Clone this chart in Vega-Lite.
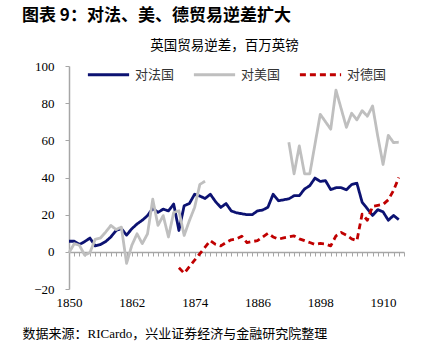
{
  "$schema": "https://vega.github.io/schema/vega-lite/v6.json",
  "width": 335,
  "height": 223,
  "autosize": "none",
  "padding": {"left": 69, "top": 66, "right": 27, "bottom": 59},
  "background": "#ffffff",
  "title": {"text": "图表 9：对法、美、德贸易逆差扩大", "anchor": "start", "frame": "group", "dx": -47, "offset": 13, "font": "Noto Sans CJK SC", "fontSize": 17, "fontWeight": "bold", "color": "#000000"},
  "config": {"view": {"stroke": null}},
  "data": {"values": [
    {"year": 1850, "对法国": 5.7, "对美国": -0.5},
    {"year": 1851, "对法国": 5.7, "对美国": 4.4},
    {"year": 1852, "对法国": 4, "对美国": 3.5},
    {"year": 1853, "对法国": 5.5, "对美国": -1.8},
    {"year": 1854, "对法国": 7.4, "对美国": -0.4},
    {"year": 1855, "对法国": 3.2, "对美国": 6.7},
    {"year": 1856, "对法国": 3.9, "对美国": 7.4},
    {"year": 1857, "对法国": 5.5, "对美国": 10.6},
    {"year": 1858, "对法国": 8, "对美国": 14.2},
    {"year": 1859, "对法国": 11.5, "对美国": 12},
    {"year": 1860, "对法国": 12.5, "对美国": 13.3},
    {"year": 1861, "对法国": 9, "对美国": -6.2},
    {"year": 1862, "对法国": 12.4, "对美国": 3.5},
    {"year": 1863, "对法国": 15, "对美国": 9.7},
    {"year": 1864, "对法国": 17, "对美国": 4.4},
    {"year": 1865, "对法国": 19.5, "对美国": 9.7},
    {"year": 1866, "对法国": 23.4, "对美国": 28.3},
    {"year": 1867, "对法国": 21.2, "对美国": 14.2},
    {"year": 1868, "对法国": 23, "对美国": 19.5},
    {"year": 1869, "对法国": 22, "对美国": 8},
    {"year": 1870, "对法国": 25.7, "对美国": 21.2},
    {"year": 1871, "对法国": 11.5, "对美国": 22.1, "对德国": -8.6},
    {"year": 1872, "对法国": 24.8, "对美国": 8.8, "对德国": -11.5},
    {"year": 1873, "对法国": 26, "对美国": 16.8, "对德国": -8},
    {"year": 1874, "对法国": 31, "对美国": 23.9, "对德国": -4.5},
    {"year": 1875, "对法国": 30, "对美国": 36.3, "对德国": -1},
    {"year": 1876, "对法国": 28.7, "对美国": 38, "对德国": 2.5},
    {"year": 1877, "对法国": 31, "对美国": null, "对德国": 6},
    {"year": 1878, "对法国": 27, "对德国": 4},
    {"year": 1879, "对法国": 23.9, "对德国": 3.2},
    {"year": 1880, "对法国": 26, "对德国": 5},
    {"year": 1881, "对法国": 22, "对德国": 6.5},
    {"year": 1882, "对法国": 21, "对德国": 7},
    {"year": 1883, "对法国": 20.5, "对德国": 8.4},
    {"year": 1884, "对法国": 20, "对德国": 5},
    {"year": 1885, "对法国": 20, "对德国": 5.5},
    {"year": 1886, "对法国": 22, "对德国": 6},
    {"year": 1887, "对法国": 22.5, "对德国": 8},
    {"year": 1888, "对法国": 24, "对德国": 10},
    {"year": 1889, "对法国": 31, "对德国": 8},
    {"year": 1890, "对法国": 27.5, "对德国": 6.8},
    {"year": 1891, "对法国": 28, "对德国": 7.5},
    {"year": 1892, "对法国": 28.5, "对美国": 59, "对德国": 8},
    {"year": 1893, "对法国": 30.2, "对美国": 42, "对德国": 8.6},
    {"year": 1894, "对法国": 30.2, "对美国": 57, "对德国": 7},
    {"year": 1895, "对法国": 33.8, "对美国": 42, "对德国": 6},
    {"year": 1896, "对法国": 35.6, "对美国": 42, "对德国": 5},
    {"year": 1897, "对法国": 39.7, "对美国": 58, "对德国": 4},
    {"year": 1898, "对法国": 37.9, "对美国": 74, "对德国": 4.5},
    {"year": 1899, "对法国": 38.3, "对美国": 70, "对德国": 4.2},
    {"year": 1900, "对法国": 33.5, "对美国": 66, "对德国": 3.2},
    {"year": 1901, "对法国": 34.5, "对美国": 87, "对德国": 8.6},
    {"year": 1902, "对法国": 34.5, "对美国": 77, "对德国": 10.4},
    {"year": 1903, "对法国": 33.4, "对美国": 67, "对德国": 9},
    {"year": 1904, "对法国": 36.2, "对美国": 74.6, "对德国": 7},
    {"year": 1905, "对法国": 36.9, "对美国": 71, "对德国": 6},
    {"year": 1906, "对法国": 26.7, "对美国": 76, "对德国": 20.3},
    {"year": 1907, "对法国": 23.2, "对美国": 73, "对德国": 17},
    {"year": 1908, "对法国": 19.6, "对美国": 78.5, "对德国": 24.5},
    {"year": 1909, "对法国": 22.7, "对美国": 62, "对德国": 25},
    {"year": 1910, "对法国": 21.5, "对美国": 47, "对德国": 25.5},
    {"year": 1911, "对法国": 17, "对美国": 62.7, "对德国": 28},
    {"year": 1912, "对法国": 19.6, "对美国": 58.8, "对德国": 33},
    {"year": 1913, "对法国": 17.3, "对美国": 59, "对德国": 40}
  ]},
  "transform": [{"fold": ["对法国", "对美国", "对德国"], "as": ["series", "value"]}],
  "mark": {"type": "line", "strokeWidth": 2.8, "strokeJoin": "round", "invalid": "break-paths-show-domains"},
  "encoding": {
    "x": {"field": "year", "type": "quantitative",
      "scale": {"domain": [1850, 1914], "nice": false, "zero": false},
      "axis": {
        "values": [1850,1851,1852,1853,1854,1855,1856,1857,1858,1859,1860,1861,1862,1863,1864,1865,1866,1867,1868,1869,1870,1871,1872,1873,1874,1875,1876,1877,1878,1879,1880,1881,1882,1883,1884,1885,1886,1887,1888,1889,1890,1891,1892,1893,1894,1895,1896,1897,1898,1899,1900,1901,1902,1903,1904,1905,1906,1907,1908,1909,1910,1911,1912,1913,1914],
        "labelExpr": "(datum.value - 1850) % 12 === 0 ? datum.value : ''",
        "labelOverlap": false, "labelFlush": false, "labelBound": false,
        "offset": -37, "grid": false,
        "domainColor": "#a6a6a6", "domainWidth": 1.5, "tickColor": "#a6a6a6", "tickSize": 4, "tickWidth": 1,
        "labelFont": "Liberation Serif", "labelFontSize": 13, "labelColor": "#000000", "labelPadding": 40,
        "title": "数据来源：RICardo，兴业证券经济与金融研究院整理",
        "titleX": -47, "titleY": 81, "titleAlign": "left", "titleBaseline": "middle", "titleAnchor": null,
        "titleFont": "Liberation Serif, Noto Sans CJK SC", "titleFontSize": 13, "titleFontWeight": "normal", "titleColor": "#000000"
      }},
    "y": {"field": "value", "type": "quantitative",
      "scale": {"domain": [-20, 100], "nice": false},
      "axis": {
        "values": [-20, 0, 20, 40, 60, 80, 100], "grid": false,
        "domainColor": "#a6a6a6", "domainWidth": 1.5, "tickColor": "#a6a6a6", "tickSize": 4,
        "labelFont": "Liberation Serif", "labelFontSize": 13, "labelColor": "#000000", "labelPadding": 11,
        "title": "英国贸易逆差，百万英镑",
        "titleAngle": 0, "titleX": 155, "titleY": -21, "titleAlign": "center", "titleBaseline": "middle",
        "titleFont": "Noto Sans CJK SC", "titleFontSize": 13.5, "titleFontWeight": "normal", "titleColor": "#000000"
      }},
    "color": {"field": "series", "type": "nominal",
      "scale": {"domain": ["对法国", "对美国", "对德国"], "range": ["#0c1272", "#bfbfbf", "#c00000"]},
      "legend": {"orient": "none", "legendX": 17, "legendY": -14, "direction": "horizontal", "title": null,
        "symbolType": "stroke", "symbolSize": 1700, "symbolStrokeWidth": 3,
        "labelFont": "Noto Sans CJK SC", "labelFontSize": 13, "labelColor": "#333333", "labelOffset": 4, "columnPadding": 12}},
    "strokeDash": {"field": "series", "type": "nominal",
      "scale": {"domain": ["对法国", "对美国", "对德国"], "range": [[1, 0], [1, 0], [6, 4]]},
      "legend": {"orient": "none", "legendX": 17, "legendY": -14, "direction": "horizontal", "title": null,
        "symbolType": "stroke", "symbolSize": 1700, "symbolStrokeWidth": 3,
        "labelFont": "Noto Sans CJK SC", "labelFontSize": 13, "labelColor": "#333333", "labelOffset": 4, "columnPadding": 12}}
  }
}
